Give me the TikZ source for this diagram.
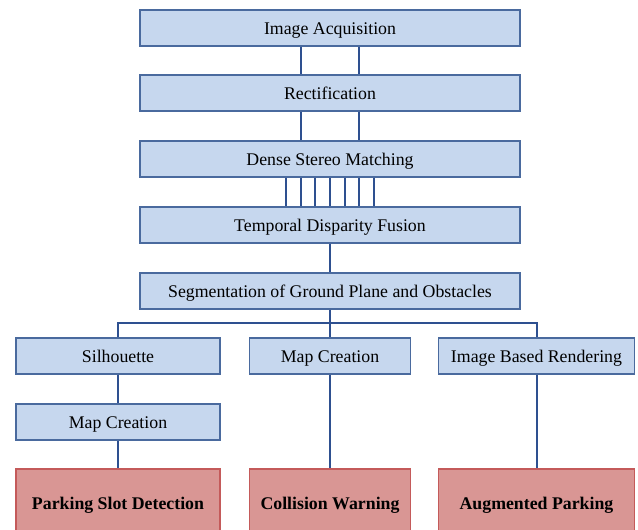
\documentclass[tikz,border=0pt]{standalone}
\usepackage{fontspec}
\setmainfont{Liberation Serif}
\definecolor{bluefill}{HTML}{C6D7EE}
\definecolor{blueedge}{HTML}{4A6A9E}
\definecolor{redfill}{HTML}{D99694}
\definecolor{rededge}{HTML}{C45A5A}
\definecolor{linkc}{HTML}{2E5090}
\tikzset{
  bluebox/.style={draw=blueedge, fill=bluefill, line width=1.4pt, minimum height=36pt, inner sep=0pt, text height=13pt, text depth=0pt, font=\fontsize{17.8}{20}\selectfont},
  redbox/.style={draw=rededge, fill=redfill, line width=1.4pt, minimum height=68pt, inner sep=0pt, text height=13pt, text depth=0pt, font=\fontsize{17.8}{20}\selectfont\bfseries},
  link/.style={draw=linkc, line width=2pt}
}
\begin{document}
\begin{tikzpicture}[x=1pt,y=-1pt]
\useasboundingbox (0,0) rectangle (638,530);
\clip (0,0) rectangle (638,530);
\node[bluebox, minimum width=380pt] (ia) at (330,28) {Image Acquisition};
\node[bluebox, minimum width=380pt] (rect) at (330,93) {Rectification};
\node[bluebox, minimum width=380pt] (dsm) at (330,159) {Dense Stereo Matching};
\node[bluebox, minimum width=380pt] (tdf) at (330,225) {Temporal Disparity Fusion};
\node[bluebox, minimum width=380pt] (seg) at (330,291) {Segmentation of Ground Plane and Obstacles};
\node[bluebox, minimum width=204pt] (sil) at (118,356) {Silhouette};
\node[bluebox, minimum width=161pt] (mc) at (330,356) {Map Creation};
\node[bluebox, minimum width=196pt] (ibr) at (536.5,356) {Image Based Rendering};
\node[bluebox, minimum width=204pt] (mcl) at (118,422) {Map Creation};
\node[redbox, minimum width=204pt] (psd) at (118,503) {Parking Slot Detection};
\node[redbox, minimum width=161pt] (cw) at (330,503) {Collision Warning};
\node[redbox, minimum width=196pt] (ap) at (536.5,503) {Augmented Parking};
\coordinate (bar) at (330,323);
\foreach \s in {-29,29} {
  \draw[link] ([xshift=\s pt]ia.south) -- ([xshift=\s pt]rect.north);
  \draw[link] ([xshift=\s pt]rect.south) -- ([xshift=\s pt]dsm.north);
}
\foreach \s in {-44,-29,-15,0,15,29,44} {
  \draw[link] ([xshift=\s pt]dsm.south) -- ([xshift=\s pt]tdf.north);
}
\draw[link] (tdf.south) -- (seg.north);
\draw[link] (seg.south) -- (bar);
\draw[link] (sil.north) |- (bar) -| (ibr.north);
\draw[link] (bar) -- (mc.north);
\draw[link] (sil.south) -- (mcl.north);
\draw[link] (mcl.south) -- (psd.north);
\draw[link] (mc.south) -- (cw.north);
\draw[link] (ibr.south) -- (ap.north);
\end{tikzpicture}
\end{document}
